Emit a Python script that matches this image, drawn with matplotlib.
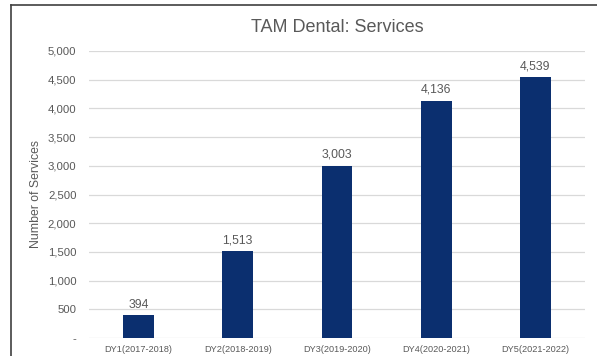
import matplotlib
matplotlib.use("Agg")
import matplotlib.pyplot as plt
from matplotlib.lines import Line2D
from matplotlib.ticker import FuncFormatter, MultipleLocator

plt.rcParams['font.family'] = ['Liberation Sans', 'DejaVu Sans']

categories = ["DY1(2017-2018)", "DY2(2018-2019)", "DY3(2019-2020)",
              "DY4(2020-2021)", "DY5(2021-2022)"]
services = [394, 1513, 3003, 4136, 4539]

W, H = 597, 356
fig = plt.figure(figsize=(W / 100, H / 100), dpi=100)
ax = fig.add_axes([89 / W, 1 - 338 / H, (585 - 89) / W, (338 - 51) / H])

bar_color = "#0B2F6F"
x = range(len(categories))
ax.bar(x, services, width=0.31, color=bar_color, zorder=3)

for xi, v in zip(x, services):
    ax.annotate(f"{v:,}", (xi, v), xytext=(0, 3.5), textcoords="offset points",
                ha="center", va="bottom", fontsize=8.8, color="#595959")

ax.set_xlim(-0.5, len(categories) - 0.5)
ax.set_ylim(0, 5000)
ax.yaxis.set_major_locator(MultipleLocator(500))
ax.yaxis.set_major_formatter(FuncFormatter(lambda v, p: "-" if v == 0 else f"{int(v):,}"))
ax.grid(axis="y", color="#D9D9D9", linewidth=0.9, zorder=0)
ax.set_xticks(list(x))
ax.set_xticklabels(categories)
ax.tick_params(axis="both", length=0, colors="#595959")
ax.tick_params(axis="x", labelsize=6.6, pad=5)
ax.tick_params(axis="y", labelsize=8.2, pad=9)
for s in ax.spines.values():
    s.set_visible(False)

ax.set_ylabel("Number of Services", fontsize=8.8, color="#595959")
ax.yaxis.set_label_coords((42 - 89) / (585 - 89), 0.5)

fig.text(0.5 * (89 + 585) / W, 1 - 27 / H, "TAM Dental: Services", ha="center",
         va="center", fontsize=13, color="#595959")

# chart frame edges (left and top)
fig.add_artist(Line2D([10.5 / W, 10.5 / W], [0, 1 - 5 / H], color="#404040", linewidth=1.2))
fig.add_artist(Line2D([10.5 / W, 1], [1 - 5 / H, 1 - 5 / H], color="#404040", linewidth=1.2))

fig.savefig("out.png", dpi=100)
